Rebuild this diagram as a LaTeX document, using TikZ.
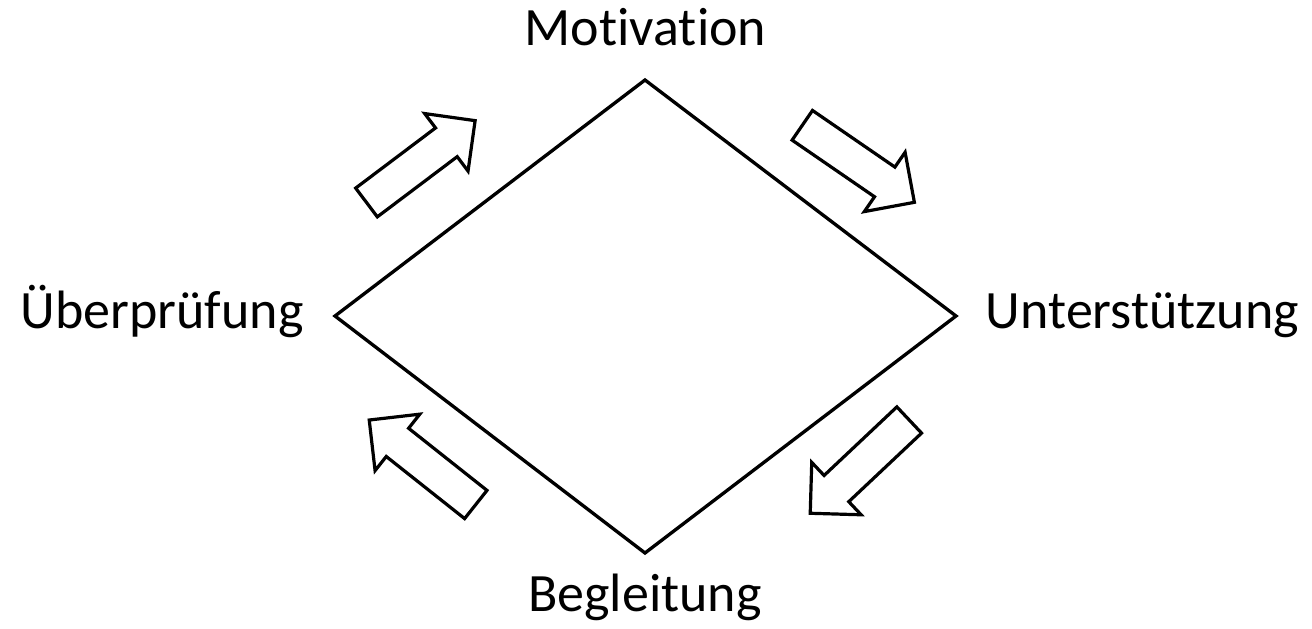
\documentclass[tikz,border=0pt]{standalone}
\usepackage{fontspec}
\setmainfont{Carlito}[Ligatures=NoCommon]
\begin{document}
\begin{tikzpicture}[x=0.75pt,y=0.75pt,
  edge/.style={line width=2.5pt,line join=miter},
  lbl/.style={font=\fontsize{40.5}{46}\selectfont,anchor=base,inner sep=0pt},
  blockarrow/.pic={\draw[line width=2.4pt,fill=white,line join=miter]
     (0,-18) -- (100,-18) -- (100,-36) -- (136,0) -- (100,36) -- (100,18) -- (0,18) -- cycle;}]
\useasboundingbox (0,0) rectangle (1312,628);
\coordinate (T) at (645,548);
\coordinate (R) at (956,312);
\coordinate (B) at (645,75);
\coordinate (L) at (335,312);
\draw[edge] (T) -- (R) -- (B) -- (L) -- cycle;
\node[lbl] (mot) at (645.5,582) {Motivation};
\node[lbl] (unt) at (1142.5,299) {Unterstützung};
\node[lbl] (beg) at (645,16.5) {Begleitung};
\node[lbl] (ueb) at (162,299) {Überprüfung};
\pic at (366.5,425.5) [rotate=37] {blockarrow};
\pic at (802.3,502.7) [rotate=-34.5] {blockarrow};
\pic at (475.8,123.5) [rotate=141.6] {blockarrow};
\pic at (909.2,208) [rotate=223.3] {blockarrow};
\end{tikzpicture}
\end{document}
